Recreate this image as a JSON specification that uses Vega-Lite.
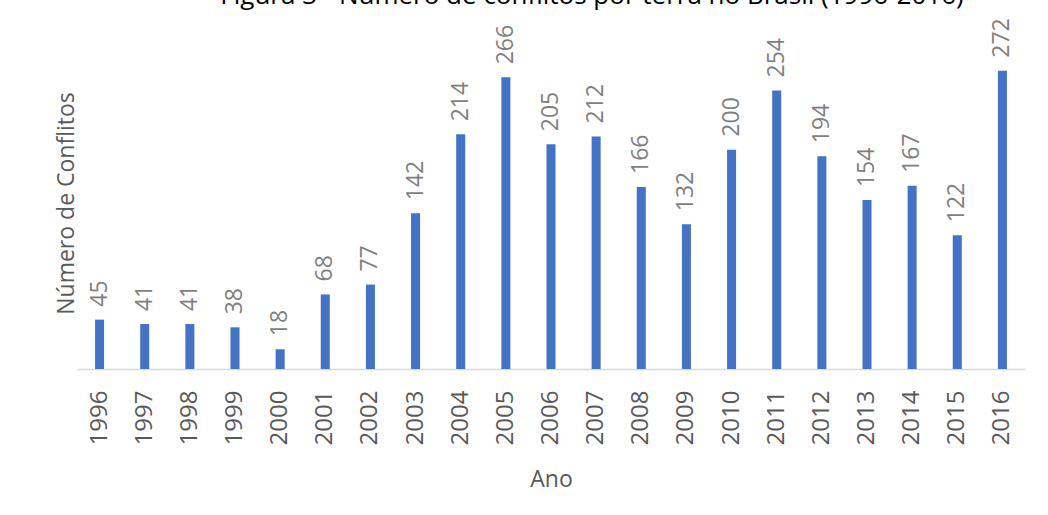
{
  "$schema": "https://vega.github.io/schema/vega-lite/v6.json",
  "autosize": "none",
  "width": 948,
  "height": 329,
  "padding": {"left": 77, "top": 40, "right": 23, "bottom": 146},
  "background": "white",
  "config": {
    "font": "Open Sans",
    "view": {"stroke": null}
  },
  "title": {
    "text": "Figura 3 - Número de conflitos por terra no Brasil (1996-2016)",
    "font": "Open Sans",
    "fontSize": 26,
    "fontWeight": "normal",
    "color": "#000000",
    "anchor": "middle",
    "frame": "group",
    "baseline": "alphabetic",
    "offset": 9,
    "dx": 41,
    "dy": 21
  },
  "data": {
    "values": [
      {"ano": "1996", "conflitos": 45},
      {"ano": "1997", "conflitos": 41},
      {"ano": "1998", "conflitos": 41},
      {"ano": "1999", "conflitos": 38},
      {"ano": "2000", "conflitos": 18},
      {"ano": "2001", "conflitos": 68},
      {"ano": "2002", "conflitos": 77},
      {"ano": "2003", "conflitos": 142},
      {"ano": "2004", "conflitos": 214},
      {"ano": "2005", "conflitos": 266},
      {"ano": "2006", "conflitos": 205},
      {"ano": "2007", "conflitos": 212},
      {"ano": "2008", "conflitos": 166},
      {"ano": "2009", "conflitos": 132},
      {"ano": "2010", "conflitos": 200},
      {"ano": "2011", "conflitos": 254},
      {"ano": "2012", "conflitos": 194},
      {"ano": "2013", "conflitos": 154},
      {"ano": "2014", "conflitos": 167},
      {"ano": "2015", "conflitos": 122},
      {"ano": "2016", "conflitos": 272}
    ]
  },
  "encoding": {
    "x": {
      "field": "ano",
      "type": "nominal",
      "sort": null,
      "scale": {"paddingInner": 0.8, "paddingOuter": 0.4},
      "axis": {
        "title": "Ano",
        "titleFont": "Open Sans",
        "titleFontSize": 23,
        "titleFontWeight": "normal",
        "titleColor": "#595959",
        "titleBaseline": "alphabetic",
        "titleY": 117,
        "labelAngle": -90,
        "labelFontSize": 24,
        "labelColor": "#595959",
        "labelPadding": 21,
        "ticks": false,
        "domainColor": "#d9d9d9",
        "domainWidth": 1.3,
        "grid": false
      }
    },
    "y": {
      "field": "conflitos",
      "type": "quantitative",
      "scale": {"domain": [0, 300], "nice": false},
      "axis": {
        "title": "Número de Conflitos",
        "titleFont": "Open Sans",
        "titleFontSize": 23,
        "titleFontWeight": "normal",
        "titleColor": "#595959",
        "titleAngle": -90,
        "titleBaseline": "alphabetic",
        "titleAlign": "center",
        "titleX": -4,
        "titleY": 163,
        "labels": false,
        "ticks": false,
        "domain": false,
        "grid": false
      }
    }
  },
  "layer": [
    {"mark": {"type": "bar", "color": "#4472C4"}},
    {
      "mark": {
        "type": "text",
        "angle": -90,
        "align": "left",
        "baseline": "middle",
        "dx": 13,
        "fontSize": 23,
        "color": "#7f7f7f"
      },
      "encoding": {"text": {"field": "conflitos", "type": "quantitative"}}
    }
  ]
}
